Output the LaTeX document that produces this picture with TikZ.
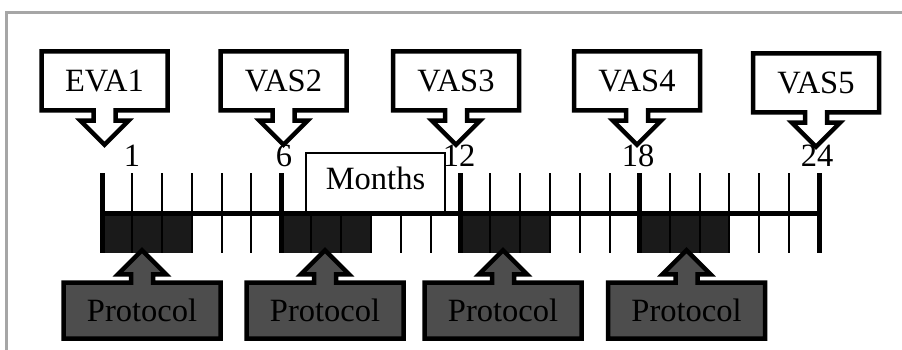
\documentclass[tikz,border=0pt]{standalone}
\usepackage{fontspec}
\setmainfont{Liberation Serif}
\usetikzlibrary{shapes.arrows}
\definecolor{blockgray}{HTML}{1A1A1A}
\definecolor{protogray}{HTML}{4D4D4D}
\definecolor{framegray}{HTML}{A6A6A6}

\begin{document}
\begin{tikzpicture}[x=1pt,y=-1pt]
      \tikzset{bigfont/.style={font=\fontsize{32.5}{38}\selectfont}}
      \tikzset{boxbase/.style={shape=arrow box, draw, line width=4.5pt, inner sep=0pt,
          arrow box shaft width=22pt, arrow box head extend=13pt, bigfont}}
      \tikzset{callout/.style={boxbase, fill=white, minimum width=126pt, minimum height=59pt,
          arrow box arrows={south:32pt}}}
      \tikzset{protocol/.style={boxbase, fill=protogray, minimum width=157pt, minimum height=56pt,
          arrow box arrows={north:30pt}}}
      \tikzset{tick/.style={line width=2pt}, bigtick/.style={line width=5pt}}
      \useasboundingbox (0,0) rectangle (902,350);
%% Frame
      \draw[framegray, line width=2.5pt] (6.5,350) -- (6.5,12.5) -- (902,12.5);
%% Blocks under the months
      \foreach \s in {0,6,12,18}
        \fill[blockgray] ({102+29.875*\s},213) rectangle ({102+29.875*(\s+3)},253);
%% Ticks
      \foreach \k in {0,...,24}
        \draw[tick] ({102+29.875*\k},173) -- ({102+29.875*\k},253);
      \foreach \k in {0,6,...,24}
        \draw[bigtick] ({102+29.875*\k},173) -- ({102+29.875*\k},253);
      \node[draw, fill=white, line width=2pt, minimum width=139pt, minimum height=59pt,
          text depth=9pt, bigfont] (months) at (375.5,182.5) {Months};
      \draw[line width=5pt] (102,213) -- (819,213);
%% Month numbers
      \node[anchor=base, bigfont] (m1) at (132,166) {1};
      \node[anchor=base, bigfont] (m6) at (284,166) {6};
      \node[anchor=base, bigfont] (m12) at (459,166) {12};
      \node[anchor=base, bigfont] (m18) at (638,166) {18};
      \node[anchor=base, bigfont] (m24) at (817,166) {24};
%% Visits
      \node[callout] (eva1) at (104.5,81) {EVA1};
      \node[callout] (vas2) at (283.5,81) {VAS2};
      \node[callout] (vas3) at (456,81) {VAS3};
      \node[callout] (vas4) at (637,81) {VAS4};
      \node[callout] (vas5) at (816,83) {VAS5};
%% Protocols
      \node[protocol] (p1) at (142,310.5) {Protocol};
      \node[protocol] (p2) at (325,310.5) {Protocol};
      \node[protocol] (p3) at (503,310.5) {Protocol};
      \node[protocol] (p4) at (686.5,310.5) {Protocol};
\end{tikzpicture}
\end{document}
